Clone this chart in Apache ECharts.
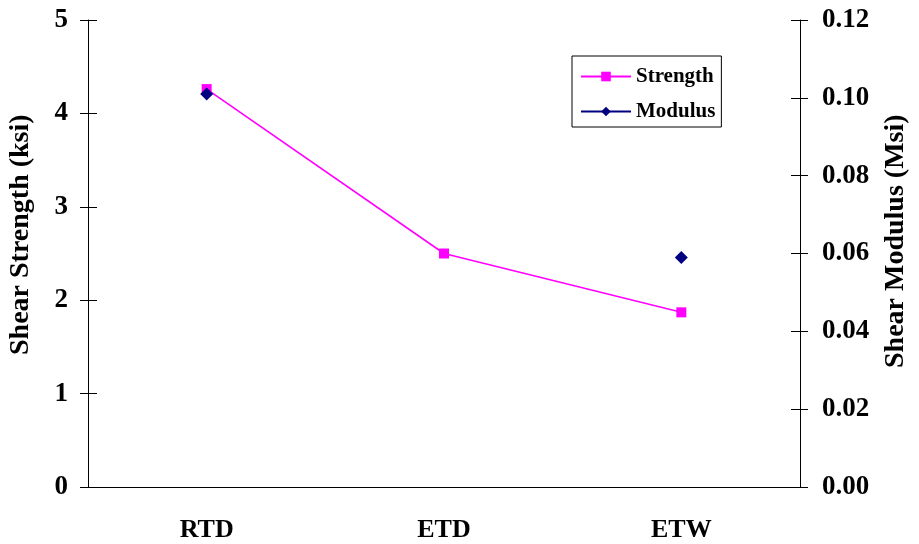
<!DOCTYPE html>
<html>
<head>
<meta charset="utf-8">
<script src="https://cdn.jsdelivr.net/npm/echarts@6/dist/echarts.min.js"></script>
<style>html,body{margin:0;padding:0;background:#fff}#c{width:919px;height:544px}</style>
</head>
<body>
<div id="c"></div>
<script>
var categories = ['RTD', 'ETD', 'ETW'];
var strength = [4.26, 2.50, 1.87];
var modulus = [0.101, null, 0.059];
var leftTitle = 'Shear Strength (ksi)';
var rightTitle = 'Shear Modulus (Msi)';

var FONT = '"Liberation Serif", "Times New Roman", serif';
var chart = echarts.init(document.getElementById('c'));
var lbl = {fontFamily: FONT, fontWeight: 'bold', color: '#000'};
chart.setOption({
  animation: false,
  grid: {left: 88, right: 119, top: 20, bottom: 57},
  legend: {
    orient: 'vertical', left: 572, top: 56,
    data: ['Strength', 'Modulus'],
    borderColor: '#000', borderWidth: 1, padding: [10, 6, 5, 8],
    itemWidth: 50, itemHeight: 12, itemGap: 14,
    textStyle: Object.assign({fontSize: 21}, lbl)
  },
  xAxis: [{
    type: 'category', data: categories, boundaryGap: true,
    axisLine: {lineStyle: {color: '#000', width: 1}},
    axisTick: {length: 7, lineStyle: {color: '#000'}},
    axisLabel: Object.assign({fontSize: 26, margin: 30}, lbl)
  }, {
    type: 'category', data: categories, boundaryGap: true, position: 'bottom',
    axisLine: {show: false},
    axisTick: {inside: true, length: 8, lineStyle: {color: '#000'}},
    axisLabel: {show: false}
  }],
  yAxis: [{
    type: 'value', min: 0, max: 5, interval: 1, position: 'left',
    splitLine: {show: false},
    axisLine: {show: true, lineStyle: {color: '#000'}},
    axisTick: {show: true, length: 8, lineStyle: {color: '#000'}},
    axisLabel: Object.assign({fontSize: 27, margin: 20}, lbl)
  }, {
    type: 'value', min: 0, max: 0.12, interval: 0.02, position: 'right',
    splitLine: {show: false},
    axisLine: {show: true, lineStyle: {color: '#000'}},
    axisTick: {show: true, length: 8, lineStyle: {color: '#000'}},
    axisLabel: Object.assign({fontSize: 27, margin: 22, formatter: function (v) { return v.toFixed(2); }}, lbl)
  }, {
    type: 'value', min: 0, max: 5, interval: 1, position: 'left', offset: 0,
    splitLine: {show: false}, axisLine: {show: false},
    axisTick: {show: true, inside: true, length: 9, lineStyle: {color: '#000'}},
    axisLabel: {show: false}
  }, {
    type: 'value', min: 0, max: 0.12, interval: 0.02, position: 'right', offset: 0,
    splitLine: {show: false}, axisLine: {show: false},
    axisTick: {show: true, inside: true, length: 9, lineStyle: {color: '#000'}},
    axisLabel: {show: false}
  }],
  series: [{
    name: 'Strength', type: 'line', data: strength, yAxisIndex: 0,
    symbol: 'rect', symbolSize: 10,
    itemStyle: {color: '#FF00FF'}, lineStyle: {color: '#FF00FF', width: 1.6}
  }, {
    name: 'Modulus', type: 'line', data: modulus, yAxisIndex: 1,
    connectNulls: false,
    symbol: 'diamond', symbolSize: 13,
    itemStyle: {color: '#000080'}, lineStyle: {color: '#000080', width: 1.6}
  }],
  graphic: [{
    type: 'text',
    style: {text: leftTitle, font: 'bold 28px ' + FONT, fill: '#000'},
    rotation: Math.PI / 2, x: 7, y: 355
  }, {
    type: 'text',
    style: {text: rightTitle, font: 'bold 28px ' + FONT, fill: '#000'},
    rotation: Math.PI / 2, x: 882, y: 368
  }]
});
</script>
</body>
</html>
